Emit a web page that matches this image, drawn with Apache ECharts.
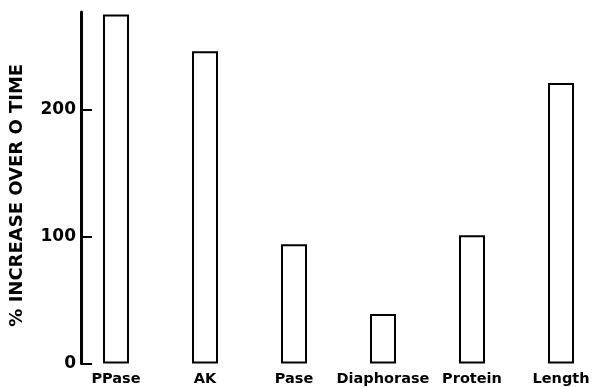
<!DOCTYPE html>
<html>
<head>
<meta charset="utf-8">
<script src="https://cdn.jsdelivr.net/npm/echarts@6/dist/echarts.min.js"></script>
<style>
html,body{margin:0;padding:0;background:#fff;}
#chart{width:595px;height:387px;}
</style>
</head>
<body>
<div id="chart"></div>
<script>
var categories = ['PPase', 'AK', 'Pase', 'Diaphorase', 'Protein', 'Length'];
var values = [275, 246, 94, 39, 101, 221];
var yTicks = [0, 100, 200];
var yMax = 277;
var yTitle = '% INCREASE OVER O TIME';

var chart = echarts.init(document.getElementById('chart'), null, {renderer: 'canvas'});
var font = 'DejaVu Sans';
chart.setOption({
  animation: false,
  backgroundColor: '#ffffff',
  grid: {left: 71.5, top: 12, width: 534, height: 351.5, containLabel: false, outerBoundsMode: 'none'},
  xAxis: {
    type: 'category',
    data: categories,
    axisLine: {show: false},
    axisTick: {show: false},
    axisLabel: {
      interval: 0, hideOverlap: false,
      color: '#000', fontFamily: font, fontWeight: 'bold', fontSize: 14.5, margin: 8
    }
  },
  yAxis: {
    type: 'value',
    min: 0,
    max: yMax,
    offset: -9.5,
    name: yTitle,
    nameLocation: 'middle',
    nameRotate: 90,
    nameGap: 55,
    nameTextStyle: {color: '#000', fontFamily: font, fontWeight: 'bold', fontSize: 18, padding: [0, 15, 0, 0]},
    splitLine: {show: false},
    axisLine: {show: true, lineStyle: {color: '#000', width: 3}},
    axisTick: {show: true, inside: true, length: 11, lineStyle: {color: '#000', width: 2}, customValues: yTicks},
    axisLabel: {
      color: '#000', fontFamily: font, fontWeight: 'bold', fontSize: 17, margin: 5,
      customValues: yTicks
    }
  },
  series: [{
    type: 'bar',
    data: values,
    barWidth: 26,
    itemStyle: {color: '#ffffff', borderColor: '#000', borderWidth: 2}
  }]
});
</script>
</body>
</html>
